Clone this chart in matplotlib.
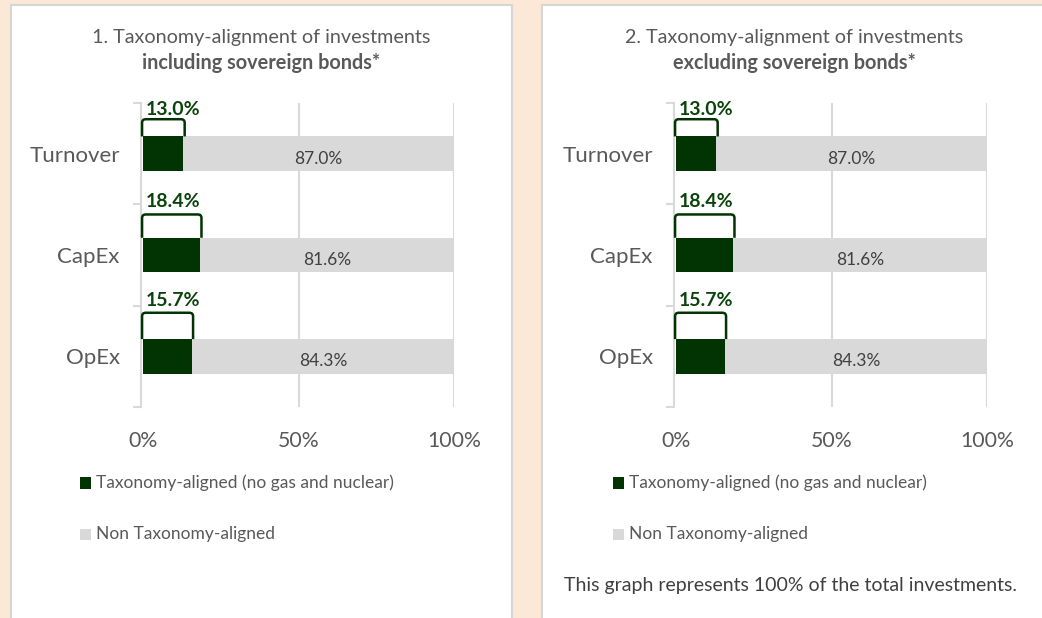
import matplotlib
matplotlib.use("Agg")
import matplotlib.pyplot as plt
from matplotlib.patches import Rectangle
from matplotlib.path import Path
from matplotlib.patches import PathPatch

# ---------------- data ----------------
categories = ["Turnover", "CapEx", "OpEx"]
aligned_incl = [13.0, 18.4, 15.7]
non_aligned_incl = [87.0, 81.6, 84.3]
aligned_excl = [13.0, 18.4, 15.7]
non_aligned_excl = [87.0, 81.6, 84.3]
x_ticks = [0, 50, 100]
x_tick_labels = ["0%", "50%", "100%"]
titles = [("1. Taxonomy-alignment of investments", "including sovereign bonds*"),
          ("2. Taxonomy-alignment of investments", "excluding sovereign bonds*")]
legend_labels = ["Taxonomy-aligned (no gas and nuclear)", "Non Taxonomy-aligned"]
footnote = "This graph represents 100% of the total investments."

# ---------------- style ----------------
plt.rcParams['font.family'] = ['Lato', 'DejaVu Sans']
W, H = 1042, 618
BEIGE = "#FBE8D6"
GREEN = "#023302"
LABEL_GREEN = "#0A440A"
GREY = "#D9D9D9"
TEXT = "#595959"

fig = plt.figure(figsize=(W / 100, H / 100), dpi=100)
fig.patch.set_facecolor(BEIGE)

def fx(px):
    return px / W

def fy(py):
    return 1 - py / H

# panels
panel_left = [10.5, 542]
panel_w = 501.5
for pl in panel_left:
    fig.patches.append(Rectangle((fx(pl), fy(H + 10)), fx(panel_w), fy(4.5) - fy(H + 10),
                                 transform=fig.transFigure, facecolor="white",
                                 edgecolor="#D6D6D6", linewidth=1.5, zorder=-5))

offset = 533
bar_h = 0.34
callout_top = [0.34, 0.40, 0.43]
label_off = [0.44, 0.53, 0.555]

def bracket(ax, x0, x1, ybot, ytop):
    rx, ry = 1.2, 0.035
    verts = [(x0, ybot), (x0, ytop + ry), (x0, ytop), (x0 + rx, ytop),
             (x1 - rx, ytop), (x1, ytop), (x1, ytop + ry), (x1, ybot)]
    codes = [Path.MOVETO, Path.LINETO, Path.CURVE3, Path.CURVE3,
             Path.LINETO, Path.CURVE3, Path.CURVE3, Path.LINETO]
    ax.add_patch(PathPatch(Path(verts, codes), facecolor="none", edgecolor=GREEN,
                           linewidth=1.8, zorder=4, clip_on=False))

datasets = [(aligned_incl, non_aligned_incl), (aligned_excl, non_aligned_excl)]

for k, (al, nal) in enumerate(datasets):
    dx = k * offset
    ax = fig.add_axes([fx(143 + dx), fy(407), fx(311), fy(103) - fy(407)])
    ax.set_zorder(5)
    ax.set_facecolor("none")
    y = list(range(len(categories)))
    ax.barh(y, al, height=bar_h, color=GREEN, zorder=3)
    ax.barh(y, nal, left=al, height=bar_h, color=GREY, zorder=3)
    ax.set_xlim(0, 100)
    ax.set_ylim(len(categories) - 0.5, -0.5)
    for xv in x_ticks[1:]:
        ax.axvline(xv, color=GREY, lw=1.5, zorder=1)
    for sp in ["top", "right", "bottom"]:
        ax.spines[sp].set_visible(False)
    ax.spines["left"].set_color(GREY)
    ax.spines["left"].set_linewidth(1.5)
    ax.spines["left"].set_position(("data", -0.8))
    ax.set_xticks(x_ticks)
    ax.set_xticklabels(x_tick_labels)
    ax.tick_params(axis="x", length=0, pad=17, labelsize=15.3, labelcolor=TEXT)
    ax.set_yticks([i - 0.5 for i in range(len(categories) + 1)], minor=False)
    ax.set_yticklabels([])
    ax.tick_params(axis="y", which="major", length=6, color=GREY, width=1.5)
    ax.set_yticks(y, minor=True)
    ax.set_yticklabels(categories, minor=True)
    ax.tick_params(axis="y", which="minor", length=0, pad=15, labelsize=16, labelcolor=TEXT)
    for i in range(len(categories)):
        ax.text(al[i] + nal[i] / 2, i + 0.05, f"{nal[i]:.1f}%", ha="center", va="center",
                fontsize=12.5, color="#404040", zorder=5)
        bracket(ax, -0.3, al[i] + 0.4, i - bar_h / 2, i - callout_top[i])
        ax.text(0.8, i - label_off[i], f"{al[i]:.1f}%", ha="left", va="center",
                fontsize=14, fontweight="bold", color=LABEL_GREEN, zorder=5)

    # titles
    fig.text(fx(261 + dx), fy(37), titles[k][0], ha="center", va="center",
             fontsize=14.2, color=TEXT)
    fig.text(fx(261 + dx), fy(63), titles[k][1], ha="center", va="center",
             fontsize=14.3, color=TEXT, fontweight="bold")

    # legend
    for j, (lab, col) in enumerate(zip(legend_labels, [GREEN, GREY])):
        yc = 483 + j * 51
        fig.patches.append(Rectangle((fx(80 + dx), fy(yc + 5.5)), fx(11), fy(yc - 5.5) - fy(yc + 5.5),
                                     transform=fig.transFigure, facecolor=col, edgecolor="none",
                                     zorder=2))
        fig.text(fx(96 + dx), fy(yc), lab, ha="left", va="center", fontsize=12.5, color=TEXT)

fig.text(fx(790), fy(586), footnote, ha="center", va="center", fontsize=14, color="#404040")

fig.savefig("out.png", dpi=100, facecolor=BEIGE)
